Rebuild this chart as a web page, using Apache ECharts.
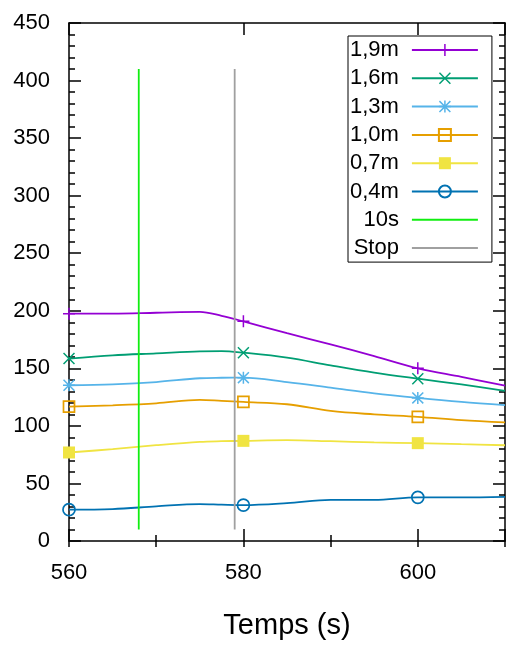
<!DOCTYPE html>
<html>
<head>
<meta charset="utf-8">
<script src="https://cdn.jsdelivr.net/npm/echarts@6/dist/echarts.min.js"></script>
<style>
  html, body { margin: 0; padding: 0; background: #fff; }
  #chart { width: 508px; height: 645px; }
</style>
</head>
<body>
<div id="chart"></div>
<script>
// Sample times (s)
const times = [560, 565, 570, 575, 577.5, 580, 585, 590, 595, 600, 605, 610];
// Times that carry a point marker
const markerTimes = [560, 580, 600];

// Values per height
const h19 = [197.5, 197.6, 198.3, 199.0, 195.6, 190.8, 180.5, 170.8, 160.6, 150.0, 142.6, 135.0];
const h16 = [158.5, 161.3, 163.0, 164.7, 165.0, 163.6, 159.3, 152.6, 146.3, 141.0, 136.0, 130.5];
const h13 = [135.3, 136.1, 138.1, 141.4, 141.8, 141.9, 138.0, 133.2, 128.3, 124.3, 120.8, 118.0];
const h10 = [116.8, 117.9, 119.6, 122.6, 121.7, 120.8, 118.8, 113.0, 110.0, 107.8, 105.0, 103.0];
const h07 = [76.9, 79.8, 83.2, 86.1, 86.7, 87.0, 87.6, 86.7, 85.6, 85.0, 84.1, 83.2];
const h04 = [27.2, 27.7, 30.1, 32.1, 31.6, 31.2, 32.9, 35.8, 35.8, 37.9, 37.9, 38.4];

const seriesNames = ['1,9m', '1,6m', '1,3m', '1,0m', '0,7m', '0,4m'];

// Event markers
const t10s = 568;
const tStop = 579;
const eventSpan = [10, 410];

// Axis ranges
const xMin = 560, xMax = 610, xStep = 20;
const yMin = 0, yMax = 450, yStep = 50;

const FONT = 'Liberation Sans, Arial, sans-serif';

const plusPath = 'path://M-1,-8h2v7h7v2h-7v7h-2v-7h-7v-2h7z';
const crossPath = 'path://M-8,-6.6L-6.6,-8L0,-1.4L6.6,-8L8,-6.6L1.4,0L8,6.6L6.6,8L0,1.4L-6.6,8L-8,6.6L-1.4,0Z';
const starPath = 'path://M-1,-8h2v7h7v2h-7v7h-2v-7h-7v-2h7z M-8,-6.6L-6.6,-8L0,-1.4L6.6,-8L8,-6.6L1.4,0L8,6.6L6.6,8L0,1.4L-6.6,8L-8,6.6L-1.4,0Z';

function seriesData(vals) {
  return times.map((t, i) => markerTimes.includes(t)
    ? [t, vals[i]]
    : { value: [t, vals[i]], symbol: 'none' });
}

function curve(name, vals, color, symbol, opts) {
  opts = opts || {};
  return {
    name: name,
    type: 'line',
    xAxisIndex: 0,
    yAxisIndex: 0,
    data: seriesData(vals),
    smooth: 0.35,
    symbol: symbol,
    symbolSize: opts.size || 12,
    showSymbol: true,
    showAllSymbol: true,
    clip: false,
    lineStyle: { color: color, width: 1.8 },
    itemStyle: opts.hollow
      ? { color: 'transparent', borderColor: color, borderWidth: 1.7 }
      : { color: color, borderWidth: 0 },
    emphasis: { disabled: true },
    animation: false
  };
}

function eventLine(name, t, color) {
  return {
    name: name,
    type: 'line',
    xAxisIndex: 0,
    yAxisIndex: 0,
    data: [[t, eventSpan[0]], [t, eventSpan[1]]],
    symbol: 'none',
    lineStyle: { color: color, width: 1.8 },
    itemStyle: { color: color },
    emphasis: { disabled: true },
    animation: false
  };
}

const chart = echarts.init(document.getElementById('chart'), null, { renderer: 'canvas' });

const baseX = {
  type: 'value', min: xMin, max: xMax, interval: xStep,
  splitLine: { show: false },
  axisLine: { show: true, onZero: false, lineStyle: { color: '#000', width: 1.5 } },
  axisTick: { show: true, inside: true, length: 12, lineStyle: { color: '#000', width: 1.5 } }
};
const minorX = {
  type: 'value', min: xMin, max: xMax, interval: xStep / 2,
  splitLine: { show: false },
  axisLine: { show: false },
  axisLabel: { show: false },
  axisTick: { show: true, inside: true, length: 6, lineStyle: { color: '#000', width: 1.5 } }
};
const baseY = {
  type: 'value', min: yMin, max: yMax, interval: yStep,
  splitLine: { show: false },
  axisLine: { show: true, onZero: false, lineStyle: { color: '#000', width: 1.5 } },
  axisTick: { show: true, inside: true, length: 12, lineStyle: { color: '#000', width: 1.5 } },
  minorTick: { show: true, splitNumber: 5, length: 6, lineStyle: { color: '#000', width: 1.5 } }
};

chart.setOption({
  backgroundColor: '#fff',
  textStyle: { fontFamily: FONT },
  grid: { left: 69, right: -1, top: 23, bottom: 103, containLabel: false },
  xAxis: [
    Object.assign({}, baseX, {
      position: 'bottom',
      axisLabel: {
        show: true, color: '#000', fontSize: 22, fontFamily: FONT, margin: 21,
        formatter: v => (v % xStep === 0 && v < xMax ? String(v) : '')
      },
      name: 'Temps (s)',
      nameLocation: 'middle',
      nameGap: 70,
      nameTextStyle: { color: '#000', fontSize: 29, fontFamily: FONT }
    }),
    Object.assign({}, minorX, { position: 'bottom' }),
    Object.assign({}, baseX, { position: 'top', axisLabel: { show: false } }),
    Object.assign({}, minorX, { position: 'top' })
  ],
  yAxis: [
    Object.assign({}, baseY, {
      position: 'left',
      axisLabel: { show: true, color: '#000', fontSize: 22, fontFamily: FONT, margin: 19 }
    }),
    Object.assign({}, baseY, { position: 'right', axisLabel: { show: false } })
  ],
  legend: {
    show: true,
    orient: 'vertical',
    align: 'right',
    left: 348,
    top: 36,
    padding: [3, 13, 3, 2],
    itemGap: 6.3,
    itemWidth: 66,
    itemHeight: 15,
    backgroundColor: '#fff',
    borderColor: '#000',
    borderWidth: 1,
    selectedMode: false,
    textStyle: { color: '#000', fontSize: 22, fontFamily: FONT, lineHeight: 22, padding: [0, 8, 0, 0] },
    data: [
      '1,9m', '1,6m', '1,3m', '1,0m', '0,7m', '0,4m',
      { name: '10s', itemStyle: { opacity: 0 } },
      { name: 'Stop', itemStyle: { opacity: 0 } }
    ]
  },
  series: [
    curve(seriesNames[0], h19, '#9400d3', plusPath),
    curve(seriesNames[1], h16, '#009e73', crossPath),
    curve(seriesNames[2], h13, '#56b4e9', starPath),
    curve(seriesNames[3], h10, '#e69f00', 'rect', { hollow: true, size: 11 }),
    curve(seriesNames[4], h07, '#f0e442', 'rect', { size: 12 }),
    curve(seriesNames[5], h04, '#0072b2', 'circle', { hollow: true, size: 12 }),
    eventLine('10s', t10s, '#11ee11'),
    eventLine('Stop', tStop, '#a0a0a0')
  ]
});
</script>
</body>
</html>
